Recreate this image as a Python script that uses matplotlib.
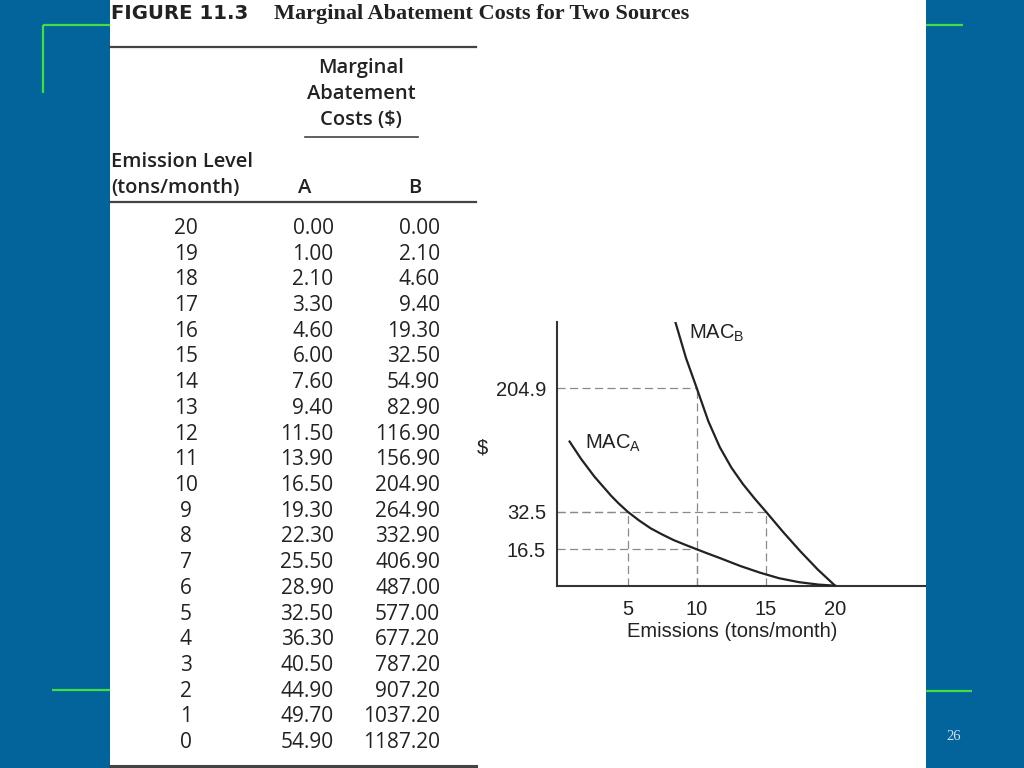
import numpy as np
import matplotlib.pyplot as plt
from matplotlib.patches import Rectangle

plt.rcParams['font.family'] = 'Liberation Sans'
plt.rcParams['mathtext.fontset'] = 'custom'
plt.rcParams['mathtext.rm'] = 'Liberation Sans'

# table of Figure 11.3
emission_levels = [20, 19, 18, 17, 16, 15, 14, 13, 12, 11, 10, 9, 8, 7, 6, 5, 4, 3, 2, 1, 0]
mac_a_table = [0.00, 1.00, 2.10, 3.30, 4.60, 6.00, 7.60, 9.40, 11.50, 13.90, 16.50,
               19.30, 22.30, 25.50, 28.90, 32.50, 36.30, 40.50, 44.90, 49.70, 54.90]
mac_b_table = [0.00, 2.10, 4.60, 9.40, 19.30, 32.50, 54.90, 82.90, 116.90, 156.90, 204.90,
               264.90, 332.90, 406.90, 487.00, 577.00, 677.20, 787.20, 907.20, 1037.20, 1187.20]

# curves as drawn in the sketch on the right
curve_a_x = [0.80, 1.64, 2.60, 3.81, 4.34, 5.0, 5.84, 6.67, 7.50, 8.33, 9.17, 10.0, 10.74,
             11.68, 13.16, 14.57, 15.94, 17.39, 18.80, 20.0]
curve_a_y = [130.5, 106.0, 81.4, 54.6, 44.2, 32.5, 28.7, 25.4, 22.8, 20.4, 18.4, 16.5, 14.7,
             12.5, 8.9, 5.9, 3.4, 1.6, 0.5, 0.0]
curve_b_x = [8.45, 9.22, 10.0, 10.83, 11.66, 12.50, 13.33, 14.17, 15.0, 16.25, 17.5, 18.75, 20.0]
curve_b_y = [297.4, 247.0, 204.9, 159.0, 122.7, 94.1, 71.2, 51.1, 32.5, 23.8, 15.5, 7.3, 0.0]

# marked points (emissions, $)
marked_x = [5, 10, 10, 15]
marked_y = [32.5, 16.5, 204.9, 32.5]

x_ticks = [5, 10, 15, 20]
y_ticks = [16.5, 32.5, 204.9]

blue = '#03639b'
green = '#3fe040'
ink = '#222222'

fig = plt.figure(figsize=(10.24, 7.68), dpi=100, facecolor=blue)

# slide background, white panel, table (pixel coordinates)
bg = fig.add_axes([0, 0, 1, 1])
bg.set_xlim(0, 1024)
bg.set_ylim(768, 0)
bg.axis('off')
bg.add_patch(Rectangle((110, 0), 816, 768, facecolor='white', edgecolor='none'))

for xs, ys in [([42.5, 110], [25, 25]), ([42.5, 42.5], [25, 93]), ([926, 963], [25, 25]),
               ([52, 110], [690, 690]), ([926, 972], [691, 691])]:
    bg.plot(xs, ys, color=green, lw=1.6, solid_capstyle='butt')

bg.text(954, 736, '26', ha='center', va='center', color='#cfe3f5',
        family='Liberation Serif', fontsize=10.5)

# title
bg.text(111, 19, 'FIGURE 11.3', ha='left', va='baseline', color=ink,
        family='DejaVu Sans', fontweight='bold', fontsize=14.2)
bg.text(274, 19, 'Marginal Abatement Costs for Two Sources', ha='left', va='baseline',
        color=ink, family='Liberation Serif', fontweight='bold', fontsize=16)

# table rules
bg.plot([110, 476], [46.5, 46.5], color='#444444', lw=1.6)
bg.plot([305, 418], [137.3, 137.3], color='#444444', lw=1.2)
bg.plot([110, 476], [202, 202], color='#444444', lw=1.6)
bg.plot([110, 476], [766, 766], color='#444444', lw=2.2)

hdr = dict(color=ink, family='Open Sans', fontweight='semibold', fontsize=14.5)
bg.text(361, 68, 'Marginal', ha='center', va='center', **hdr)
bg.text(361, 94, 'Abatement', ha='center', va='center', **hdr)
bg.text(361, 120, 'Costs ($)', ha='center', va='center', **hdr)
bg.text(111, 161.7, 'Emission Level', ha='left', va='center', **hdr)
bg.text(111, 188.3, '(tons/month)', ha='left', va='center', **hdr)
bg.text(305, 188.3, 'A', ha='center', va='center', **hdr)
bg.text(415, 188.3, 'B', ha='center', va='center', **hdr)

row = dict(color=ink, family='Open Sans', fontsize=15, va='baseline')
for i, (e, a, b) in enumerate(zip(emission_levels, mac_a_table, mac_b_table)):
    yb = 226.5 + i * 25.72 + 7.3
    bg.text(186, yb, str(e), ha='center', **row)
    bg.text(333.5, yb, f'{a:.2f}', ha='right', **row)
    bg.text(440, yb, f'{b:.2f}', ha='right', **row)

# sketch of the two MAC curves
ax = fig.add_axes([557 / 1024, (768 - 585.7) / 768, 368 / 1024, 264 / 768])
ax.patch.set_alpha(0)

# the sketch's $ axis is not linear: piecewise scale through the labelled values
knots_v = [-100, 0, 16.5, 32.5, 204.9, 1000]
knots_h = [-220.6, 0, 36.4, 74, 197.4, 766.7]


def fwd(v):
    return np.interp(v, knots_v, knots_h)


def inv(h):
    return np.interp(h, knots_h, knots_v)


ax.set_yscale('function', functions=(fwd, inv))
ax.set_xlim(-0.11, 26.5)
ax.set_ylim(0, 297.9)

x_left = ax.get_xlim()[0]
for mx, my in zip(marked_x, marked_y):
    ax.plot([x_left, mx], [my, my], color='#8a8a8a', lw=0.9, linestyle=(0, (6.5, 3.5)), zorder=1)
    ax.plot([mx, mx], [0, my], color='#8a8a8a', lw=0.9, linestyle=(0, (6.5, 3.5)), zorder=1)

ax.plot(curve_a_x, curve_a_y, color=ink, lw=1.6, zorder=3, solid_joinstyle='round')
ax.plot(curve_b_x, curve_b_y, color=ink, lw=1.6, zorder=3, solid_joinstyle='round')

ax.text(0.0761, 0.518, r'MAC$_{\mathrm{A}}$', transform=ax.transAxes, ha='left',
        va='baseline', fontsize=14.5, color=ink)
ax.text(0.3595, 0.9345, r'MAC$_{\mathrm{B}}$', transform=ax.transAxes, ha='left',
        va='baseline', fontsize=14.5, color=ink)

ax.set_xticks(x_ticks)
ax.set_xticklabels([str(t) for t in x_ticks])
ax.set_yticks(y_ticks)
ax.set_yticklabels([str(t) for t in y_ticks])
ax.minorticks_off()
ax.tick_params(axis='both', length=0, labelsize=14.5, labelcolor=ink)
ax.tick_params(axis='x', pad=10)
ax.tick_params(axis='y', pad=8)

ax.spines['top'].set_visible(False)
ax.spines['right'].set_visible(False)
for s in ['left', 'bottom']:
    ax.spines[s].set_color('#333333')
    ax.spines[s].set_linewidth(1.5)

ax.text(-0.202, 0.52, '$', transform=ax.transAxes, ha='center', va='center',
        fontsize=14.5, color=ink)
ax.text(0.475, -0.174, 'Emissions (tons/month)', transform=ax.transAxes, ha='center',
        va='center', fontsize=14.5, color=ink)

fig.savefig('out.png', dpi=100, facecolor=blue)
